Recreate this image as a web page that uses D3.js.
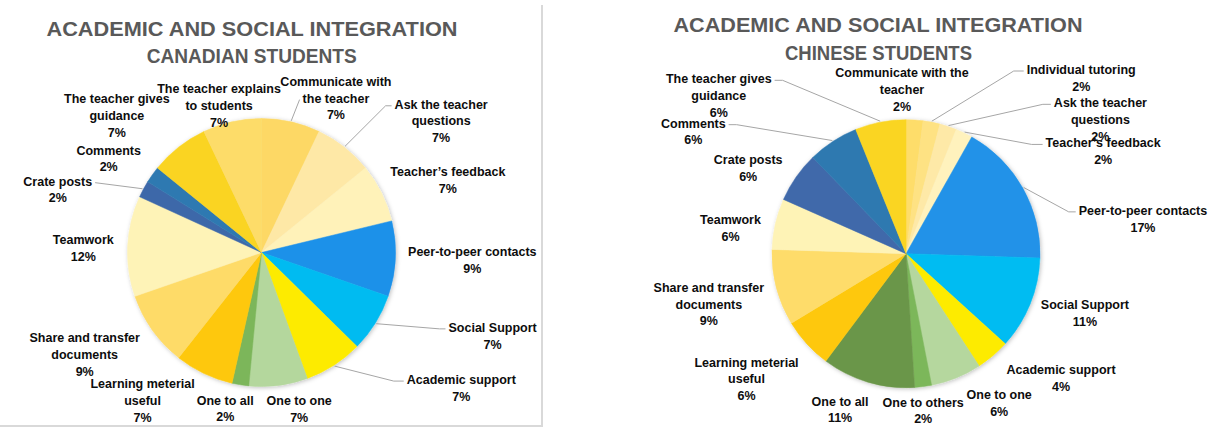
<!DOCTYPE html>
<html>
<head>
<meta charset="utf-8">
<script src="https://d3js.org/d3.v7.min.js"></script>
<style>
  body { margin: 0; background: #fff; }
  text { font-family: "Liberation Sans", Arial, sans-serif; }
</style>
</head>
<body>
<div id="my_dataviz"></div>
<script>
// ---- data ----
var canadianCategories = [
  "Communicate with\nthe teacher", "Ask the teacher\nquestions", "Teacher\u2019s feedback",
  "Peer-to-peer contacts", "Social Support", "Academic support", "One to one", "One to all",
  "Learning meterial\nuseful", "Share and transfer\ndocuments", "Teamwork", "Crate posts",
  "Comments", "The teacher gives\nguidance", "The teacher explains\nto students"
];
var canadianValues = [7, 7, 7, 9, 7, 7, 7, 2, 7, 9, 12, 2, 2, 7, 7];

var chineseCategories = [
  "Communicate with the\nteacher", "Individual tutoring", "Ask the teacher\nquestions",
  "Teacher\u2019s feedback", "Peer-to-peer contacts", "Social Support", "Academic support",
  "One to one", "One to others", "One to all", "Learning meterial\nuseful",
  "Share and transfer\ndocuments", "Teamwork", "Crate posts", "Comments",
  "The teacher gives\nguidance"
];
var chineseValues = [2, 2, 2, 2, 17, 11, 4, 6, 2, 11, 6, 9, 6, 6, 6, 6];

// ---- styles / layout ----
var canadianColors = ["#FDD865", "#FEE8A6", "#FFF2B9", "#1F91E9", "#00BBF1", "#FDEB05",
  "#B4D79D", "#7CB65A", "#FEC809", "#FEDB68", "#FEF3B7", "#3E68A9", "#2E79B1", "#FAD421", "#FDDC69"];
var chineseColors = ["#FEDD6A", "#FEE283", "#FEE9A7", "#FFF2BD", "#2092E8", "#00BCF2", "#FDEB05",
  "#B5D79E", "#7CB75A", "#6A9648", "#FEC809", "#FEDC6A", "#FEF3B6", "#3F69AA", "#2E79B0", "#FAD521"];

// label nudges from the default label ring, [dx, dy]
var canadianNudges = [[35, 8], [69, -3], [26, 3], [32, -5], [79, -15], [103, -19], [15, -25],
  [-8, -24.5], [-42, -26], [-31, -14], [0.6, 0], [-46, 17.7], [-7, 6], [-34, -8.5], [-3, 15.4]];
var chineseNudges = [[-15.5, 2.2], [141, -4], [138, 23.5], [119.5, 55], [81, 49], [13, -12],
  [39, -16], [26, -20.6], [-5.7, -24.5], [-15, -19.6], [-27, -7.3], [-24, -7], [-1, 10],
  [-11, 12.7], [-115, 24], [-153, 5.3]];
// leader lines: [line index to attach to, hook length] or null
var canadianLeaders = [[1, 0], [0, 6], null, null, [0, 6], [0, 10], null, null, null, null,
  null, [0, 0], null, null, null];
var chineseLeaders = [null, [0, 10], [0, 8], [0, 11], [0, 7], null, null, null, null, null,
  null, null, null, null, [0, 8], [0, 8]];

var W = 1225, H = 428;
var radius = 134;
var lineH = 16.7;

var svg = d3.select("#my_dataviz")
  .append("svg")
  .attr("width", W)
  .attr("height", H);

var defs = svg.append("defs");
var shadow = defs.append("filter")
  .attr("id", "pieShadow")
  .attr("x", "-10%").attr("y", "-10%")
  .attr("width", "120%").attr("height", "120%");
shadow.append("feDropShadow")
  .attr("dx", 1).attr("dy", 1)
  .attr("stdDeviation", 2)
  .attr("flood-color", "#000")
  .attr("flood-opacity", 0.25);

// frame lines around the left chart
svg.append("line")
  .attr("x1", 542).attr("x2", 542).attr("y1", 5).attr("y2", 427)
  .attr("stroke", "#D9D9D9").attr("stroke-width", 2);
svg.append("line")
  .attr("x1", 0).attr("x2", 542).attr("y1", 426).attr("y2", 426)
  .attr("stroke", "#D9D9D9").attr("stroke-width", 2);

function drawPie(opts) {
  var data = opts.categories.map(function (c, i) {
    return { name: c, value: opts.values[i], color: opts.colors[i],
      nudge: opts.nudges[i], leader: opts.leaders[i] };
  });

  var g = svg.append("g")
    .attr("transform", "translate(" + opts.cx + "," + opts.cy + ")");

  // titles
  opts.titles.forEach(function (t) {
    svg.append("text")
      .attr("x", t.x)
      .attr("y", t.y)
      .attr("text-anchor", "middle")
      .attr("textLength", t.w)
      .attr("lengthAdjust", "spacingAndGlyphs")
      .style("font-size", "21px")
      .style("font-weight", "bold")
      .style("fill", "#595959")
      .text(t.text);
  });

  var pie = d3.pie()
    .sort(null)
    .value(function (d) { return d.value; });

  var arcs = pie(data);

  var arc = d3.arc().innerRadius(0).outerRadius(radius);
  var edgeArc = d3.arc().innerRadius(radius + 1).outerRadius(radius + 1);
  var labelArc = d3.arc().innerRadius(radius + 45).outerRadius(radius + 45);

  g.append("g")
    .attr("filter", "url(#pieShadow)")
    .selectAll("path")
    .data(arcs)
    .enter().append("path")
    .attr("d", arc)
    .attr("fill", function (d) { return d.data.color; })
    .attr("stroke", function (d) { return d.data.color; })
    .attr("stroke-width", 0.5);

  var leaders = g.append("g");

  var labels = g.append("g")
    .selectAll("g")
    .data(arcs)
    .enter().append("g")
    .attr("transform", function (d) {
      var c = labelArc.centroid(d);
      return "translate(" + (c[0] + d.data.nudge[0]) + "," + (c[1] + d.data.nudge[1]) + ")";
    });

  var text = labels.append("text")
    .attr("text-anchor", "middle")
    .style("font-size", "12.5px")
    .style("font-weight", "bold")
    .style("fill", "#0D0D0D");

  text.selectAll("tspan")
    .data(function (d) {
      return d.data.name.split("\n").concat([d.data.value + "%"]);
    })
    .enter().append("tspan")
    .attr("x", 0)
    .attr("y", function (d, i) { return i * lineH; })
    .text(function (d) { return d; });

  // leader lines
  labels.each(function (d) {
    if (!d.data.leader) return;
    var c = labelArc.centroid(d);
    var lx = c[0] + d.data.nudge[0];
    var ly = c[1] + d.data.nudge[1];
    var idx = d.data.leader[0], hook = d.data.leader[1];
    var span = d3.select(this).selectAll("tspan").nodes()[idx];
    var w = span.getComputedTextLength();
    var side = lx > 0 ? -1 : 1;
    var ax = lx + side * (w / 2 + 3);
    var ay = ly + idx * lineH - 3;
    var e = edgeArc.centroid(d);
    leaders.append("path")
      .attr("d", d3.line()([[ax, ay], [ax + side * hook, ay], e]))
      .attr("fill", "none")
      .attr("stroke", "#A6A6A6")
      .attr("stroke-width", 1);
  });
}

drawPie({
  categories: canadianCategories,
  values: canadianValues,
  colors: canadianColors,
  nudges: canadianNudges,
  leaders: canadianLeaders,
  cx: 261.5, cy: 252.5,
  titles: [
    { text: "ACADEMIC AND SOCIAL INTEGRATION", x: 252, y: 36, w: 411 },
    { text: "CANADIAN STUDENTS", x: 251.7, y: 63.3, w: 210 }
  ]
});

drawPie({
  categories: chineseCategories,
  values: chineseValues,
  colors: chineseColors,
  nudges: chineseNudges,
  leaders: chineseLeaders,
  cx: 906, cy: 253.7,
  titles: [
    { text: "ACADEMIC AND SOCIAL INTEGRATION", x: 878, y: 32.3, w: 409 },
    { text: "CHINESE STUDENTS", x: 878.5, y: 60, w: 187 }
  ]
});
</script>
</body>
</html>
